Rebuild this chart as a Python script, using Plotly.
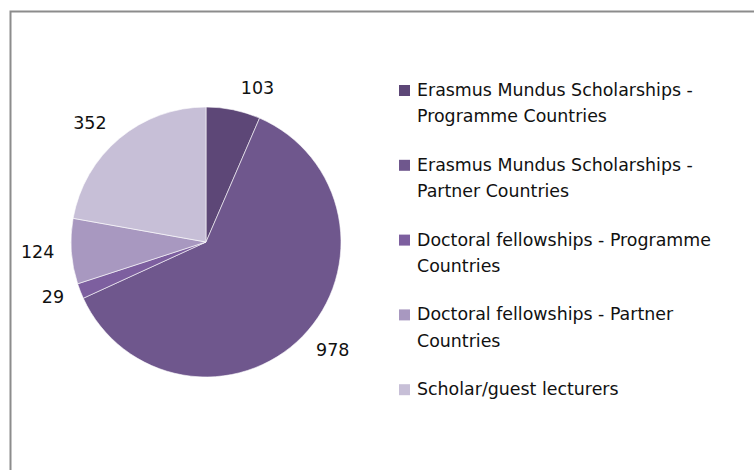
import plotly.graph_objects as go

# ---- data ----
labels = [
    "Erasmus Mundus Scholarships - Programme Countries",
    "Erasmus Mundus Scholarships - Partner Countries",
    "Doctoral fellowships - Programme Countries",
    "Doctoral fellowships - Partner Countries",
    "Scholar/guest lecturers",
]
values = [103, 978, 29, 124, 352]
legend_lines = [
    ["Erasmus Mundus Scholarships -", "Programme Countries"],
    ["Erasmus Mundus Scholarships -", "Partner Countries"],
    ["Doctoral fellowships - Programme", "Countries"],
    ["Doctoral fellowships - Partner", "Countries"],
    ["Scholar/guest lecturers"],
]
colors = ["#5d4777", "#6f578d", "#7d5f9f", "#a898c0", "#c7bfd7"]

W, H = 754, 470
FONT = "DejaVu Sans"
TXT = "#111111"

cx, cy, r = 206, 242, 135
r_lab = 147


def dom(rad):
    return dict(x=[(cx - rad) / W, (cx + rad) / W],
                y=[1 - (cy + rad) / H, 1 - (cy - rad) / H])


common = dict(labels=labels, values=values, sort=False, direction="clockwise",
              rotation=0, showlegend=False)

fig = go.Figure()
# visible pie
fig.add_trace(go.Pie(
    **common,
    marker=dict(colors=colors, line=dict(color="white", width=0.6)),
    textinfo="none",
    hoverinfo="label+value",
    domain=dom(r),
))
# slightly larger invisible pie that only carries the outside value labels
fig.add_trace(go.Pie(
    **common,
    marker=dict(colors=["rgba(0,0,0,0)"] * len(values), line=dict(width=0)),
    textinfo="value",
    textposition="outside",
    outsidetextfont=dict(family=FONT, size=17.5, color=TXT),
    hoverinfo="skip",
    domain=dom(r_lab),
))

annotations = []
shapes = []
item_y0, item_step, line_step = 90, 74.8, 26.5
lx_text, lx_sq, sq = 415, 399, 11
for i, lines in enumerate(legend_lines):
    y_first = item_y0 + i * item_step
    shapes.append(dict(
        type="rect", xref="paper", yref="paper",
        x0=lx_sq / W, x1=(lx_sq + sq) / W,
        y0=1 - (y_first + 0.5 + sq / 2) / H, y1=1 - (y_first + 0.5 - sq / 2) / H,
        fillcolor=colors[i], line=dict(width=0),
    ))
    for j, t in enumerate(lines):
        annotations.append(dict(
            text=t, xref="paper", yref="paper",
            x=lx_text / W, y=1 - (y_first + j * line_step) / H,
            xanchor="left", yanchor="middle", showarrow=False,
            font=dict(family=FONT, size=17.4, color=TXT),
        ))

# frame (only left and top edges are inside the picture)
shapes.append(dict(
    type="rect", xref="paper", yref="paper",
    x0=10.5 / W, x1=(W + 20) / W, y0=-20 / H, y1=1 - 11.5 / H,
    line=dict(color="#8c8c8c", width=2), fillcolor="rgba(0,0,0,0)",
))

fig.update_layout(
    width=W, height=H,
    margin=dict(l=0, r=0, t=0, b=0),
    paper_bgcolor="white",
    plot_bgcolor="white",
    annotations=annotations,
    shapes=shapes,
    font=dict(family=FONT, color=TXT),
)

fig.write_html(
    "out.html",
    config={"displayModeBar": False},
    post_script="document.body.style.margin='0';document.body.style.overflow='hidden';",
)
